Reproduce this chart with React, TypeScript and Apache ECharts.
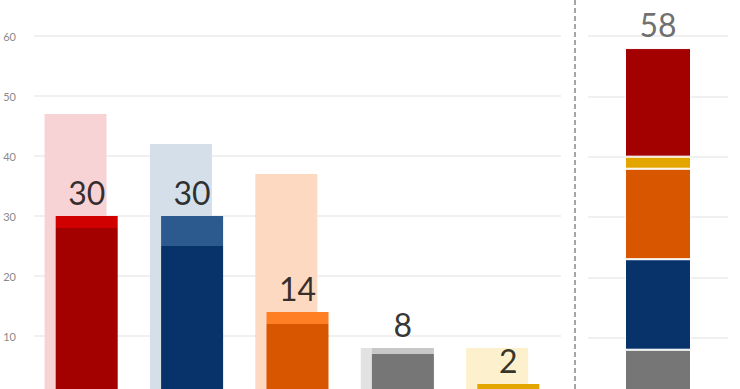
import React, { useEffect, useRef } from "react";
import * as echarts from "echarts";

const categories = ["P1", "P2", "P3", "P4", "P5"];
const previousValues = [47, 42, 37, 8, 8];
const baseValues = [28, 25, 12, 7, 2];
const gainValues = [2, 5, 2, 1, 0];
const totals = [30, 30, 14, 8, 2];

const darkColors = ["#a30000", "#08336a", "#d95600", "#767676", "#e3a600"];
const brightColors = ["#d10000", "#2c5a8f", "#ff7f24", "#c8c8c8", "#e3a600"];
const lightColors = ["#f8d3d5", "#d4dfe9", "#fed9c2", "#e2e2e2", "#fdf0cc"];

const stackCategory = ["Σ"];
const stackParts = [
  { name: "gray", value: 8, color: "#767676" },
  { name: "blue", value: 15, color: "#08336a" },
  { name: "orange", value: 15, color: "#d95600" },
  { name: "yellow", value: 2, color: "#e3a600" },
  { name: "red", value: 18, color: "#a30000" },
];
const stackTotal = [58];

const yTicks = { min: 0, max: 60, interval: 10 };

export default function App() {
  const ref = useRef<HTMLDivElement>(null);
  useEffect(() => {
    if (!ref.current) return;
    const chart = echarts.init(ref.current, undefined, { renderer: "svg" });
    const font = "Lato, 'Noto Sans', sans-serif";
    const split = { show: true, lineStyle: { color: "#ebebeb", width: 1.5 } };
    chart.setOption({
      animation: false,
      backgroundColor: "#ffffff",
      grid: [
        { left: 34, right: 179, top: 36, bottom: 24 },
        { left: 588, right: 12, top: 36, bottom: 22 },
      ],
      xAxis: [
        {
          type: "category",
          gridIndex: 0,
          data: categories,
          axisLine: { show: false },
          axisTick: { show: false },
          axisLabel: { show: false },
        },
        {
          type: "category",
          gridIndex: 1,
          data: stackCategory,
          axisLine: { show: false },
          axisTick: { show: false },
          axisLabel: { show: false },
        },
      ],
      yAxis: [
        {
          type: "value",
          gridIndex: 0,
          ...yTicks,
          splitLine: split,
          axisLine: { show: false },
          axisTick: { show: false },
          axisLabel: {
            fontSize: 11,
            color: "#8a8a8a",
            fontFamily: font,
            margin: 18,
            showMinLabel: false,
          },
        },
        {
          type: "value",
          gridIndex: 1,
          ...yTicks,
          splitLine: split,
          axisLine: { show: false },
          axisTick: { show: false },
          axisLabel: { show: false },
        },
      ],
      series: [
        {
          type: "bar",
          xAxisIndex: 0,
          yAxisIndex: 0,
          barWidth: 62,
          barGap: "-82%",
          data: previousValues.map((v, i) => ({
            value: v,
            itemStyle: { color: lightColors[i] },
          })),
        },
        {
          type: "bar",
          xAxisIndex: 0,
          yAxisIndex: 0,
          stack: "now",
          barWidth: 62,
          barGap: "-82%",
          data: baseValues.map((v, i) => ({
            value: v,
            itemStyle: { color: darkColors[i] },
          })),
        },
        {
          type: "bar",
          xAxisIndex: 0,
          yAxisIndex: 0,
          stack: "now",
          barWidth: 62,
          barGap: "-82%",
          data: gainValues.map((v, i) => ({
            value: v,
            itemStyle: { color: brightColors[i] },
          })),
        },
        {
          type: "bar",
          xAxisIndex: 0,
          yAxisIndex: 0,
          barWidth: 62,
          barGap: "-82%",
          data: categories.map(() => "-"),
        },
        {
          type: "scatter",
          xAxisIndex: 0,
          yAxisIndex: 0,
          symbolSize: 0,
          data: totals,
          label: {
            show: true,
            position: "top",
            distance: 8,
            fontSize: 32,
            color: "#000000",
            fontFamily: font,
          },
        },
        ...stackParts.map((p) => ({
          type: "bar",
          xAxisIndex: 1,
          yAxisIndex: 1,
          stack: "sum",
          barWidth: 66,
          name: p.name,
          data: [p.value],
          itemStyle: { color: p.color, borderColor: "#ffffff", borderWidth: 1 },
        })),
        {
          type: "scatter",
          xAxisIndex: 1,
          yAxisIndex: 1,
          symbolSize: 0,
          data: stackTotal,
          label: {
            show: true,
            position: "top",
            distance: 8,
            fontSize: 32,
            color: "#4a4a4a",
            fontFamily: font,
          },
        },
      ],
      graphic: [
        {
          type: "line",
          shape: { x1: 575, y1: 0, x2: 575, y2: 420 },
          style: { stroke: "#888888", lineWidth: 1.5, lineDash: [5, 3] },
        },
      ],
    });
    return () => chart.dispose();
  }, []);
  return (
    <div
      style={{
        position: "fixed",
        left: 0,
        top: 0,
        width: 740,
        height: 389,
        overflow: "hidden",
        background: "#fff",
      }}
    >
      <div ref={ref} style={{ width: 740, height: 420 }} />
    </div>
  );
}
